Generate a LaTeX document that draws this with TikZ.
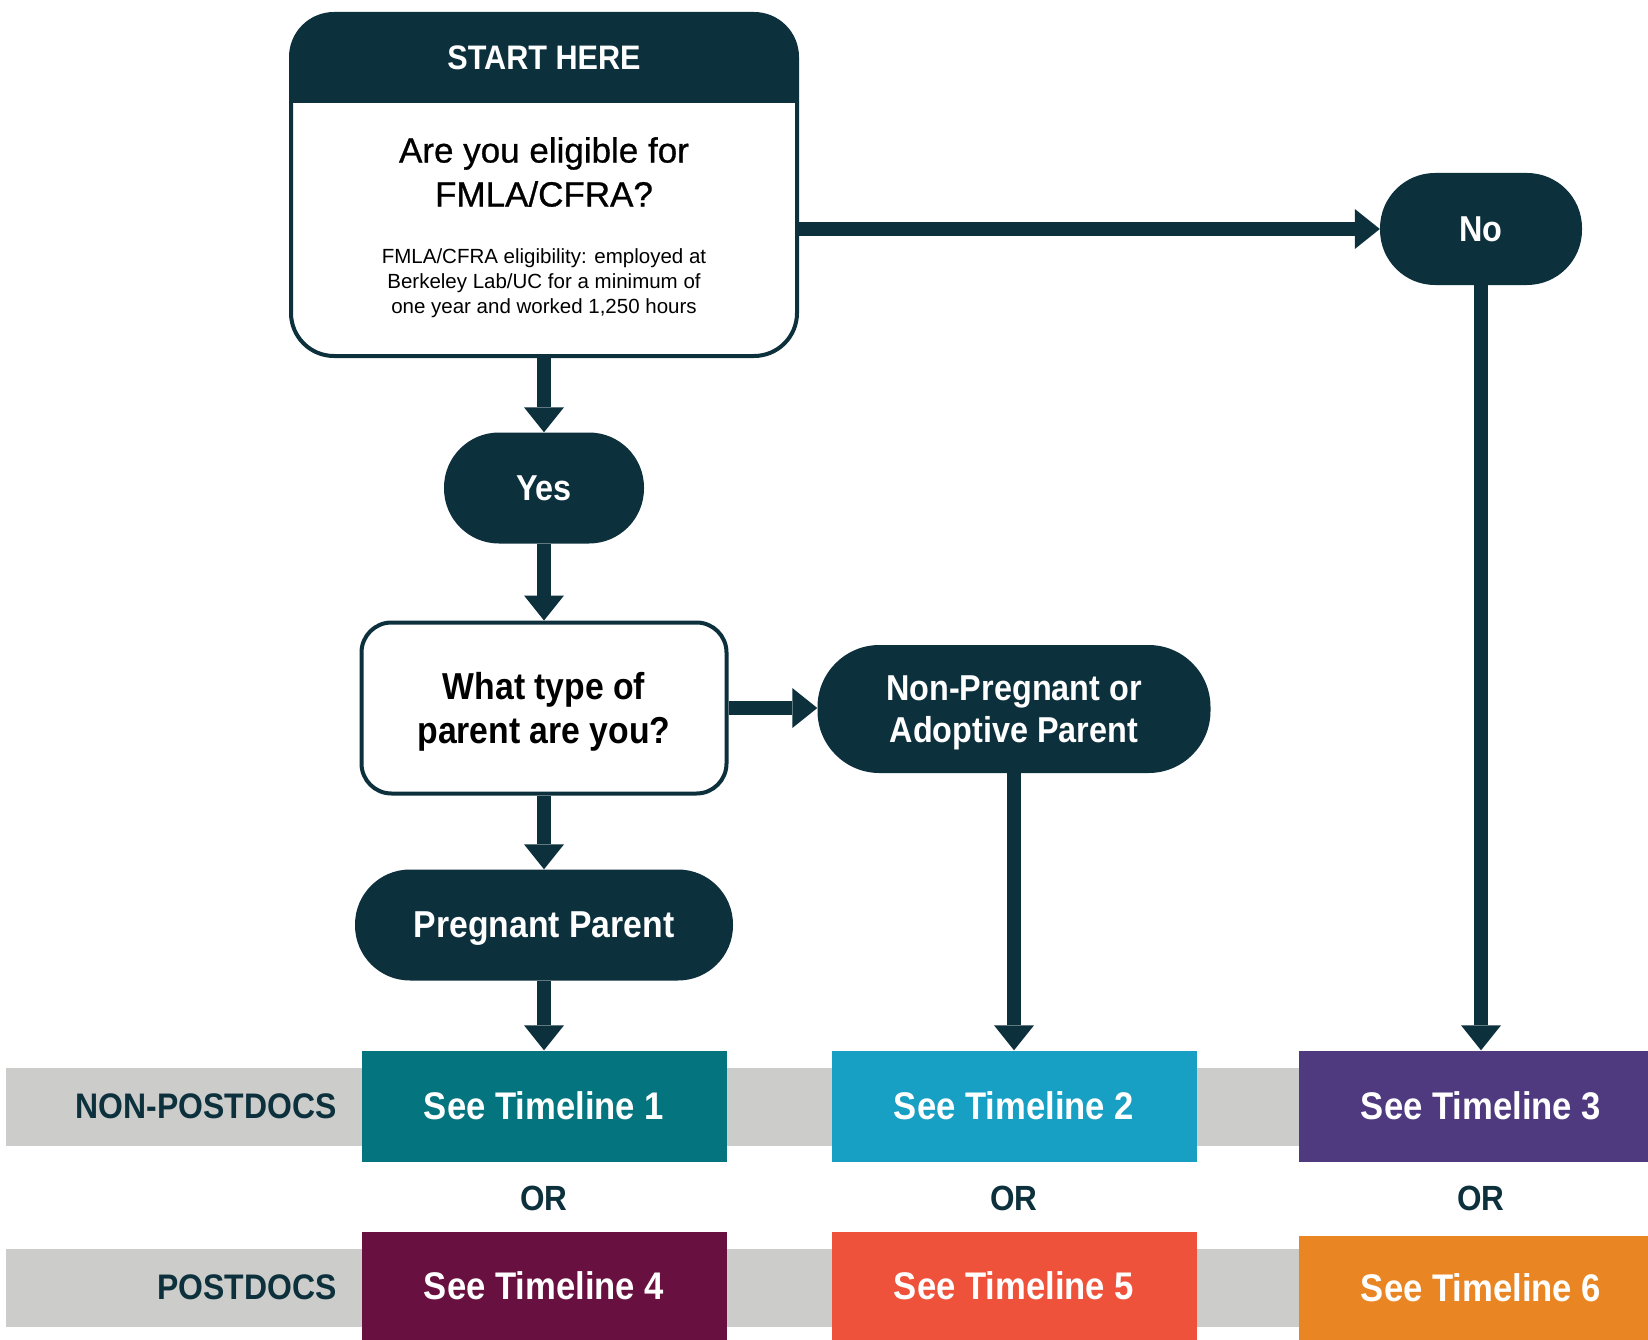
\documentclass[tikz,border=0pt]{standalone}
\usepackage{fontspec}
\setmainfont{Liberation Sans}
\newfontfamily\condsans[FakeStretch=0.9]{Liberation Sans}
\newfontfamily\medsans[FakeBold=0.8]{Liberation Sans}
\usetikzlibrary{arrows.meta,calc}

\definecolor{navy}{HTML}{0D303D}
\definecolor{bandgrey}{HTML}{CCCCCA}
\definecolor{tlone}{HTML}{04757F}
\definecolor{tltwo}{HTML}{179FC4}
\definecolor{tlthree}{HTML}{4F3A80}
\definecolor{tlfour}{HTML}{68103F}
\definecolor{tlfive}{HTML}{EF523A}
\definecolor{tlsix}{HTML}{E98623}

\tikzset{
  condfont/.style={font=\condsans\bfseries\fontsize{#1}{42}\selectfont},
  flow/.style={draw=navy, line width=14pt,
    -{Triangle[width=40pt,length=25pt,line width=0pt]}},
  pill/.style={fill=navy, text=white, rounded corners=55pt, inner sep=0pt,
    align=center, font=\condsans\bfseries\fontsize{36}{42}\selectfont},
  qbox/.style={draw=navy, line width=4pt, fill=white, inner sep=0pt},
  tlbox/.style={minimum width=365pt, minimum height=111pt, inner sep=0pt,
    text=white, font=\condsans\bfseries\fontsize{38.5}{44}\selectfont},
  rowlabel/.style={anchor=east, text=navy, inner sep=0pt,
    font=\condsans\bfseries\fontsize{35.5}{42}\selectfont},
  orlabel/.style={text=navy, inner sep=0pt,
    font=\condsans\bfseries\fontsize{35}{42}\selectfont},
}

\begin{document}
\begin{tikzpicture}[x=1pt,y=-1pt]
  \clip (0,0) rectangle (1648,1340);
  \fill[white] (0,0) rectangle (1648,1340);

  % grey row bands behind the timeline boxes
  \fill[bandgrey] (6,1068) rectangle (1648,1146);
  \fill[bandgrey] (6,1249) rectangle (1648,1327);

  % start box: white body, dark header
  \node[qbox, rounded corners=43pt, minimum width=506pt, minimum height=342pt]
    (start) at (544,185) {};
  \fill[navy, rounded corners=43pt] (291,14) rectangle (797,103);
  \fill[navy] (291,60) rectangle (797,103);
  \node[text=white, inner sep=0pt, condfont=34] (starthead) at (544,58) {START HERE};
  \node[align=center, inner sep=0pt, font=\medsans\fontsize{35}{44}\selectfont]
    (question) at (544,172) {Are you eligible for\\FMLA/CFRA?};
  \node[align=center, inner sep=0pt, font=\fontsize{20.5}{25}\selectfont]
    (note) at (544,283) {FMLA/CFRA eligibility: employed at\\Berkeley Lab/UC for a minimum of\\one year and worked 1,250 hours};

  % decision nodes
  \node[pill, minimum width=202pt, minimum height=112pt] (no) at (1481,229) {No};
  \node[pill, minimum width=200pt, minimum height=111pt] (yes) at (544,488) {Yes};
  \node[qbox, rounded corners=30pt, minimum width=365pt, minimum height=171pt,
    align=center, text depth=0pt, font=\condsans\bfseries\fontsize{37.5}{44}\selectfont]
    (parent) at (544,708) {What type of\\parent are you?};
  \node[pill, rounded corners=62pt, minimum width=393pt, minimum height=128pt,
    text depth=0pt] (nonpreg) at (1014,709) {Non-Pregnant or\\Adoptive Parent};
  \node[pill, minimum width=378pt, minimum height=111pt, text depth=0pt,
    font=\condsans\bfseries\fontsize{37.5}{42}\selectfont] (preg) at (544,925) {Pregnant Parent};

  % timeline boxes
  \node[tlbox, fill=tlone]   (tl1) at (544,1106)  {See Timeline 1};
  \node[tlbox, fill=tltwo]   (tl2) at (1014,1106) {See Timeline 2};
  \node[tlbox, fill=tlthree] (tl3) at (1481,1106) {See Timeline 3};
  \node[tlbox, fill=tlfour, minimum height=108pt]  (tl4) at (544,1286)  {See Timeline 4};
  \node[tlbox, fill=tlfive, minimum height=108pt]  (tl5) at (1014,1286) {See Timeline 5};
  \node[tlbox, fill=tlsix, minimum height=105pt]   (tl6) at (1481,1288) {See Timeline 6};

  % row labels and separators
  \node[rowlabel] (nonpostdocs) at (337,1106) {NON-POSTDOCS};
  \node[rowlabel] (postdocs) at (337,1287) {POSTDOCS};
  \node[orlabel] (or1) at (544,1198) {OR};
  \node[orlabel] (or2) at (1014,1198) {OR};
  \node[orlabel] (or3) at (1481,1198) {OR};

  % connectors
  \draw[flow] (start.south) -- (yes.north);
  \draw[flow] (no.west -| start.east) -- (no.west);
  \draw[flow] (yes.south) -- (parent.north);
  \draw[flow] (parent.east) -- (nonpreg.west |- parent.east);
  \draw[flow] (parent.south) -- (preg.north);
  \draw[flow] (preg.south) -- (tl1.north);
  \draw[flow] (nonpreg.south) -- (tl2.north);
  \draw[flow] (no.south) -- (tl3.north);
\end{tikzpicture}
\end{document}
